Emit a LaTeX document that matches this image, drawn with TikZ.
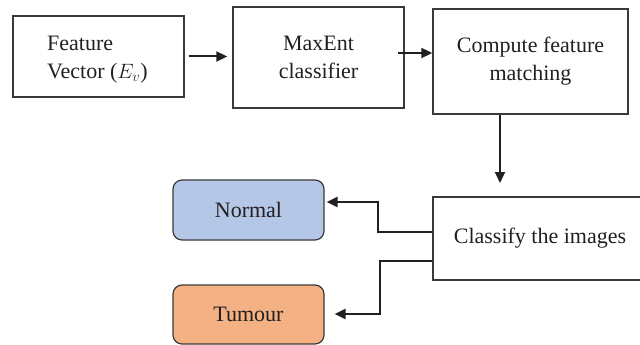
\documentclass[tikz,border=0pt]{standalone}
\usepackage{fontspec}
\setmainfont{Liberation Serif}
\usetikzlibrary{arrows.meta}
\definecolor{ink}{HTML}{231F20}
\definecolor{edge}{HTML}{3A3A3A}
\definecolor{nblue}{HTML}{B4C7E7}
\definecolor{torange}{HTML}{F4B183}
\tikzset{
  box/.style={draw=edge, line width=1.4pt, rectangle, inner sep=0pt, align=center, text=ink, font=\fontsize{22}{28}\selectfont},
  rbox/.style={box, rounded corners=9pt, line width=1.2pt},
  arr/.style={draw=ink, line width=2pt, -{Triangle[length=11pt,width=10pt]}},
}
\begin{document}
\begin{tikzpicture}[x=1pt,y=-1pt]
\useasboundingbox (0,0) rectangle (640,345);
\node[box, minimum width=171pt, minimum height=81pt] (b1) at (98.5,56.5) {};
\node[align=left, text=ink, font=\fontsize{22}{28}\selectfont, anchor=west, inner sep=0pt] (t1) at (47,60) {Feature\\Vector ($E_v$)};
\node[box, minimum width=171pt, minimum height=101pt] (b2) at (318.5,57.5) {MaxEnt\\classifier};
\node[box, minimum width=195pt, minimum height=105pt] (b3) at (530.5,61.5) {Compute feature\\matching};
\node[box, minimum width=208pt, minimum height=83pt] (c) at (537,238.5) {\hspace*{6pt}Classify the images};
\node[rbox, fill=nblue, minimum width=151pt, minimum height=60pt] (n) at (248.5,210) {Normal};
\node[rbox, fill=torange, minimum width=151pt, minimum height=59pt] (t) at (248.5,314.5) {Tumour};
\coordinate (a1y) at (0,56.5);
\draw[arr, shorten <=4pt, shorten >=5pt] (b1.east |- a1y) -- (b2.west |- a1y);
\coordinate (a2s) at (398,53);
\draw[arr] (a2s) -- (a2s -| b3.west);
\coordinate (v) at (500,183);
\draw[arr] (v |- b3.south) -- (v);
\coordinate (ny) at (0,232);
\coordinate (nx) at (378,202);
\draw[arr, shorten >=2pt] (c.west |- ny) -| (nx) -- (nx -| n.east);
\coordinate (ty) at (0,261);
\coordinate (tx) at (380,314);
\draw[arr, shorten >=10pt] (c.west |- ty) -| (tx) -- (tx -| t.east);
\end{tikzpicture}
\end{document}
